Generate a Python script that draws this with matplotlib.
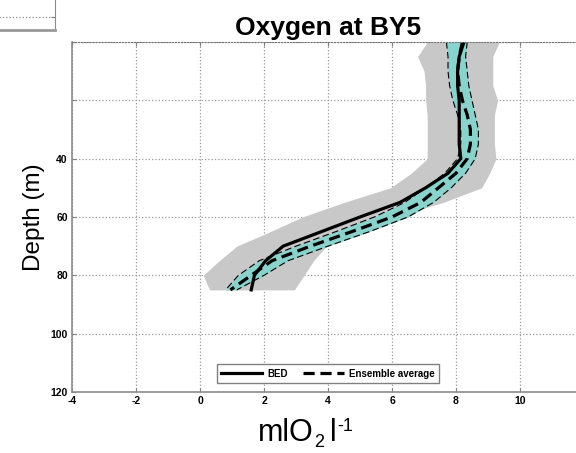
import matplotlib

matplotlib.use("Agg")
import matplotlib.pyplot as plt

plt.rcParams["font.family"] = ["Liberation Sans", "DejaVu Sans"]

# depth levels (m) and oxygen values (ml O2 / l)
depth = [0, 5, 10, 15, 20, 25, 30, 35, 40, 45, 50, 55, 60, 65, 70, 75, 80, 85]
bed_o2 = [8.25, 8.1, 8.05, 8.05, 8.1, 8.1, 8.1, 8.1, 8.15, 7.75, 7.05, 6.25,
          5.0, 3.8, 2.6, 2.05, 1.7, 1.6]
ens_o2 = [8.2, 8.1, 8.05, 8.1, 8.2, 8.35, 8.45, 8.45, 8.35, 8.0, 7.45, 6.9,
          6.0, 4.75, 3.45, 2.25, 1.6, 0.95]
std_lo = [7.7, 7.75, 7.75, 7.8, 7.9, 8.05, 8.15, 8.15, 8.05, 7.65, 7.05, 6.4,
          5.45, 4.25, 3.0, 1.85, 1.2, 0.8]
std_hi = [8.35, 8.3, 8.35, 8.4, 8.5, 8.6, 8.7, 8.7, 8.6, 8.3, 7.85, 7.3,
          6.5, 5.3, 4.0, 2.75, 2.0, 1.15]
rng_lo = [7.1, 6.8, 7.0, 7.05, 7.05, 7.1, 7.1, 7.1, 7.1, 6.6, 5.95, 4.5,
          3.2, 2.2, 1.15, 0.6, 0.1, 0.3]
rng_hi = [9.35, 9.15, 9.15, 9.15, 9.3, 9.2, 9.2, 9.2, 9.25, 9.05, 8.8, 7.6,
          6.1, 5.0, 3.95, 3.55, 3.25, 2.95]

xticks = [-4, -2, 0, 2, 4, 6, 8, 10, 12]
xtick_labels = ["-4", "-2", "0", "2", "4", "6", "8", "10", ""]
yticks = [0, 20, 40, 60, 80, 100, 120]
ytick_labels = ["", "", "40", "60", "80", "100", "120"]

fig = plt.figure(figsize=(5.76, 4.53), dpi=100)
ax = fig.add_axes([0.125, 0.1347, 0.8889, 0.7726])

ax.fill_betweenx(depth, rng_lo, rng_hi, color="#c8c8c8", lw=0)
ax.fill_betweenx(depth, std_lo, std_hi, color="#8ad2cc", lw=0)
ax.plot(std_lo, depth, color="black", lw=0.8, ls=(0, (6, 3)))
ax.plot(std_hi, depth, color="black", lw=0.8, ls=(0, (6, 3)))
ax.plot(bed_o2, depth, color="black", lw=2.3, label="BED")
ax.plot(ens_o2, depth, color="black", lw=2.3, ls=(0, (3.5, 1.8)),
        label="Ensemble average")

ax.set_xlim(-4, 12)
ax.set_ylim(120, 0)
ax.set_xticks(xticks)
ax.set_xticklabels(xtick_labels)
ax.set_yticks(yticks)
ax.set_yticklabels(ytick_labels)
ax.tick_params(direction="in", length=3, color="0.5", labelsize=7.5, pad=3,
               top=True, right=True)
for lab in ax.get_xticklabels() + ax.get_yticklabels():
    lab.set_fontweight("bold")
ax.set_axisbelow(True)
ax.grid(True, ls=":", color="0.6", lw=0.9)
for side in ["left", "bottom"]:
    ax.spines[side].set_color("0.55")
    ax.spines[side].set_linewidth(1.2)
ax.spines["top"].set_color("0.45")
ax.spines["top"].set_linestyle(":")
ax.spines["right"].set_visible(False)

ax.set_title("Oxygen at BY5", fontsize=19, fontweight="bold", pad=5)
ax.set_ylabel("Depth (m)", fontsize=17.5, labelpad=4)

# x label built from pieces so the sub/superscripts stay small
t1 = fig.text(258 / 576, 0.026, "mlO", fontsize=22, va="baseline")
t2 = ax.annotate("2", xy=(1, 0), xycoords=t1, xytext=(0.3, -2),
                 textcoords="offset points", fontsize=13, va="bottom",
                 annotation_clip=False)
t3 = ax.annotate("l", xy=(1, 0), xycoords=t2, xytext=(4, 2),
                 textcoords="offset points", fontsize=22, va="bottom",
                 annotation_clip=False)
ax.annotate("-1", xy=(1, 1), xycoords=t3, xytext=(1, 0),
            textcoords="offset points", fontsize=13, va="top",
            annotation_clip=False)

leg = ax.legend(loc="lower center", bbox_to_anchor=(0.5, 0.026), ncol=2,
                fontsize=7, handlelength=4.2, borderaxespad=0,
                fancybox=False, framealpha=1, edgecolor="0.5",
                borderpad=0.45, columnspacing=1.5, handletextpad=0.6)
for txt in leg.get_texts():
    txt.set_fontweight("bold")
leg.get_frame().set_linewidth(1.0)

# corner of the neighbouring panel that sticks into the figure
ax2 = fig.add_axes([-0.2, 0.9338, 0.2955, 0.1])
ax2.set_xlim(0, 1)
ax2.set_ylim(0, 1)
ax2.set_xticks([])
ax2.set_yticks([0.29])
ax2.set_yticklabels([])
ax2.tick_params(axis="y", direction="in", length=3, color="0.5", left=False,
                right=True)
ax2.grid(True, axis="y", ls=":", color="0.55", lw=0.9)
for side in ["top", "left"]:
    ax2.spines[side].set_visible(False)
ax2.spines["right"].set_color("0.55")
ax2.spines["bottom"].set_color("0.6")
ax2.spines["bottom"].set_linewidth(2)

fig.savefig("out.png", dpi=100)
